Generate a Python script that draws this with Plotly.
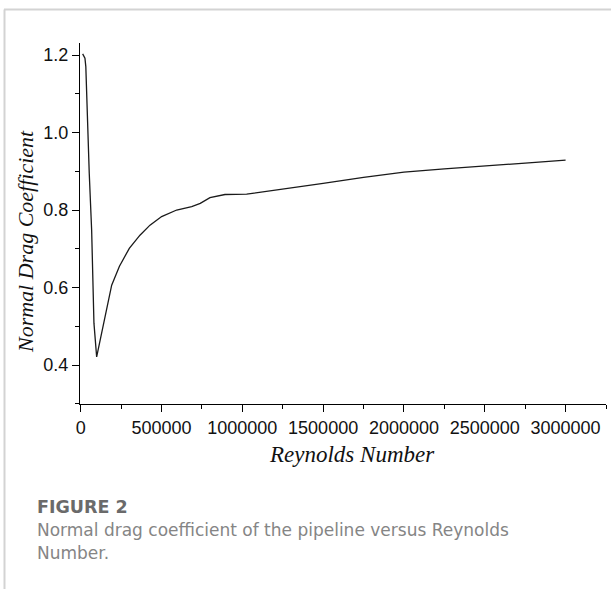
import plotly.graph_objects as go

# Data
reynolds = [12400, 26600, 32000, 37100, 53200, 68100, 71800, 78000, 82300, 99000,
            150000, 192000, 240000, 301000, 367000, 429000, 501000, 594000, 687000,
            740000, 800000, 893000, 1027000, 1250000, 1500000, 1750000, 2000000,
            2250000, 2500000, 2750000, 3000000]
drag_coef = [1.203, 1.192, 1.170, 1.092, 0.895, 0.748, 0.680, 0.602, 0.508, 0.421,
             0.520, 0.606, 0.655, 0.701, 0.735, 0.761, 0.783, 0.800, 0.809,
             0.817, 0.832, 0.840, 0.841, 0.855, 0.869, 0.884, 0.898,
             0.906, 0.913, 0.921, 0.929]
x_ticks = [0, 500000, 1000000, 1500000, 2000000, 2500000, 3000000]
y_ticks = [0.4, 0.6, 0.8, 1.0, 1.2]

W, H = 611, 589
L, R, T, B = 80, 5, 43, 185
pw, ph = W - L - R, H - T - B

def px(xp):
    return (xp - L) / pw

def py(yp):
    return (H - B - yp) / ph

fig = go.Figure()
fig.add_trace(go.Scatter(x=reynolds, y=drag_coef, mode="lines",
                         line=dict(color="#1a1a1a", width=1.3),
                         showlegend=False, hoverinfo="skip"))

axis_common = dict(showgrid=False, zeroline=False, showline=True, linecolor="black",
                   linewidth=1.3, ticks="outside", ticklen=7, tickwidth=1.3,
                   tickcolor="black",
                   tickfont=dict(family="Liberation Sans, Arial", size=18, color="#111"))

fig.update_xaxes(range=[-4000, 3250000], tickvals=x_ticks,
                 ticktext=[str(v) for v in x_ticks],
                 minor=dict(dtick=250000, tick0=0, ticklen=4, tickwidth=1.3,
                            tickcolor="black", ticks="outside"),
                 **axis_common)
fig.update_yaxes(range=[0.2994, 1.231], tickvals=y_ticks,
                 ticktext=[f"{v:.1f}" for v in y_ticks],
                 minor=dict(dtick=0.1, tick0=0.3, ticklen=4, tickwidth=1.3,
                            tickcolor="black", ticks="outside"),
                 **axis_common)

serif = "Liberation Serif, Times New Roman"
cap_font = "DejaVu Sans"
annotations = [
    dict(text="<i>Reynolds Number</i>", x=px(352), y=py(454), xref="paper", yref="paper",
         showarrow=False, xanchor="center", yanchor="middle",
         font=dict(family=serif, size=23, color="#111")),
    dict(text="<i>Normal Drag Coefficient</i>", x=px(25), y=py(242), xref="paper", yref="paper",
         showarrow=False, xanchor="center", yanchor="middle", textangle=-90,
         font=dict(family=serif, size=22, color="#111")),
    dict(text="<b>FIGURE 2</b>", x=px(35), y=py(507), xref="paper", yref="paper",
         showarrow=False, xanchor="left", yanchor="middle",
         font=dict(family=cap_font, size=17.5, color="#6a6a6a")),
    dict(text="Normal drag coefficient of the pipeline versus Reynolds", x=px(35), y=py(530),
         xref="paper", yref="paper", showarrow=False, xanchor="left", yanchor="middle",
         font=dict(family=cap_font, size=17, color="#858585")),
    dict(text="Number.", x=px(35), y=py(552.5),
         xref="paper", yref="paper", showarrow=False, xanchor="left", yanchor="middle",
         font=dict(family=cap_font, size=17, color="#858585")),
]

shapes = [
    dict(type="line", xref="paper", yref="paper", x0=px(4), x1=px(611), y0=py(9.5), y1=py(9.5),
         line=dict(color="#d3d3d3", width=2)),
    dict(type="line", xref="paper", yref="paper", x0=px(4.5), x1=px(4.5), y0=py(9.5), y1=py(589),
         line=dict(color="#d3d3d3", width=2)),
]

fig.update_layout(width=W, height=H, margin=dict(l=L, r=R, t=T, b=B),
                  paper_bgcolor="white", plot_bgcolor="white",
                  annotations=annotations, shapes=shapes)

fig.write_html("out.html")
